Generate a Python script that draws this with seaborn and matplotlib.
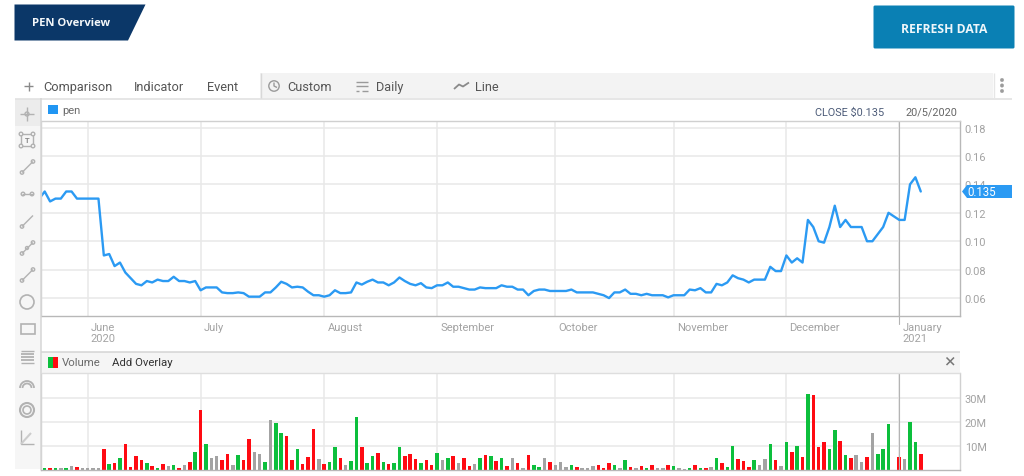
import numpy as np
import pandas as pd
import seaborn as sns
import matplotlib.pyplot as plt
from matplotlib.patches import Rectangle, Polygon, Circle, Arc, FancyBboxPatch
from matplotlib.transforms import ScaledTranslation

sns.set_theme(style='white')
plt.rcParams['font.family'] = ['Roboto', 'DejaVu Sans']

# closing price, first value is the day cut off by the left edge
price = [0.130, 0.135, 0.128, 0.130, 0.130, 0.135, 0.135, 0.130, 0.130, 0.130, 0.130, 0.130,
         0.090, 0.091, 0.0825, 0.085, 0.078, 0.074, 0.070, 0.069, 0.072, 0.071, 0.073, 0.072,
         0.072, 0.075, 0.072, 0.072, 0.071, 0.072, 0.0655, 0.0675, 0.0675, 0.0675, 0.064, 0.0635,
         0.0635, 0.064, 0.0635, 0.061, 0.061, 0.061, 0.064, 0.064, 0.0675, 0.0715, 0.070, 0.0675,
         0.068, 0.0675, 0.0645, 0.062, 0.062, 0.061, 0.062, 0.0655, 0.0635, 0.0635, 0.064, 0.071,
         0.0695, 0.0715, 0.073, 0.071, 0.071, 0.069, 0.071, 0.0745, 0.072, 0.070, 0.069, 0.0705,
         0.0675, 0.067, 0.069, 0.069, 0.071, 0.068, 0.068, 0.067, 0.066, 0.066, 0.0675, 0.067,
         0.067, 0.067, 0.069, 0.068, 0.068, 0.066, 0.066, 0.062, 0.065, 0.066, 0.066, 0.065,
         0.065, 0.065, 0.065, 0.066, 0.064, 0.064, 0.064, 0.064, 0.063, 0.062, 0.060, 0.064,
         0.064, 0.066, 0.063, 0.063, 0.062, 0.063, 0.062, 0.062, 0.062, 0.0605, 0.062, 0.062,
         0.062, 0.066, 0.0655, 0.067, 0.064, 0.064, 0.070, 0.069, 0.071, 0.076, 0.074, 0.073,
         0.071, 0.073, 0.073, 0.073, 0.082, 0.079, 0.079, 0.090, 0.085, 0.088, 0.085, 0.115,
         0.110, 0.100, 0.099, 0.110, 0.125, 0.110, 0.115, 0.110, 0.110, 0.110, 0.100, 0.100,
         0.105, 0.110, 0.120, 0.1175, 0.115, 0.115, 0.140, 0.145, 0.135]
# volume in millions
volume = [0.5, 0.5, 0.5, 0.8, 0.5, 1.5, 1.0, 0.8, 0.8, 0.8, 0.8, 8.5, 2.4, 2.8, 5.0, 10.8, 1.0, 5.5,
          4.0, 2.8, 1.3, 0.8, 2.1, 1.3, 1.7, 0.7, 1.7, 3.2, 7.3, 25.0, 10.8, 5.0, 5.8, 4.0, 6.3, 1.7,
          5.9, 4.0, 12.8, 7.4, 6.3, 3.2, 20.8, 19.6, 15.3, 13.9, 4.0, 8.5, 2.5, 5.2, 16.8, 4.3, 2.1, 3.2,
          9.3, 4.8, 1.7, 3.6, 21.9, 9.4, 2.8, 5.5, 7.0, 3.2, 2.5, 2.8, 9.3, 5.5, 6.6, 4.3, 2.8, 3.9,
          1.7, 7.0, 3.9, 4.8, 5.5, 2.8, 4.8, 1.3, 2.5, 5.0, 5.9, 5.5, 3.6, 5.0, 1.3, 5.0, 2.8, 0.8,
          6.2, 1.7, 1.0, 4.6, 3.2, 1.7, 3.2, 1.0, 1.7, 1.0, 0.8, 0.5, 1.3, 1.7, 0.7, 2.8, 2.0, 0.8,
          3.9, 1.0, 0.7, 1.3, 0.5, 1.7, 0.8, 0.8, 1.7, 1.3, 0.5, 0.3, 0.8, 1.7, 0.6, 0.6, 1.0, 4.7,
          2.8, 1.2, 9.7, 4.3, 3.6, 1.0, 3.9, 2.0, 4.3, 10.8, 3.9, 1.6, 11.5, 7.4, 10.0, 5.2, 31.7, 31.0,
          9.3, 11.5, 8.6, 16.5, 12.0, 5.9, 4.7, 6.2, 3.2, 5.2, 15.3, 6.6, 8.6, 19.2, 0.0, 5.2, 4.3, 20.0,
          11.5, 6.6]
# g up, r down, n unchanged
vol_dir = ['g', 'r', 'g', 'n', 'g', 'n', 'r', 'n', 'n', 'n', 'n', 'r', 'g', 'r', 'g', 'r', 'r', 'r',
           'r', 'g', 'r', 'g', 'r', 'n', 'g', 'r', 'n', 'r', 'g', 'r', 'g', 'n', 'n', 'r', 'r', 'n',
           'g', 'r', 'r', 'n', 'n', 'g', 'n', 'g', 'g', 'r', 'r', 'g', 'r', 'r', 'r', 'n', 'r', 'g',
           'g', 'r', 'n', 'g', 'g', 'r', 'g', 'g', 'r', 'g', 'r', 'g', 'g', 'r', 'r', 'r', 'g', 'r',
           'r', 'g', 'n', 'g', 'r', 'n', 'r', 'r', 'n', 'g', 'r', 'g', 'r', 'g', 'r', 'n', 'r', 'n',
           'r', 'g', 'g', 'n', 'r', 'n', 'n', 'n', 'g', 'r', 'n', 'n', 'n', 'r', 'r', 'r', 'g', 'n',
           'g', 'r', 'n', 'r', 'g', 'r', 'n', 'n', 'r', 'g', 'n', 'n', 'g', 'r', 'g', 'r', 'n', 'g',
           'r', 'g', 'g', 'r', 'r', 'r', 'g', 'n', 'n', 'g', 'r', 'n', 'g', 'r', 'g', 'r', 'g', 'r',
           'r', 'r', 'g', 'g', 'r', 'g', 'r', 'n', 'n', 'r', 'n', 'g', 'g', 'g', 'n', 'r', 'n', 'g',
           'g', 'r']
month_pos = [8, 29, 52, 73, 95, 117, 138, 159]
month_lab = ['June\n2020', 'July', 'August', 'September', 'October', 'November', 'December', 'January\n2021']
price_ticks = [0.06, 0.08, 0.10, 0.12, 0.14, 0.16, 0.18]
vol_ticks = [10, 20, 30]
vol_lab = ['10M', '20M', '30M']

W, H = 1024, 477
GRID = '#e8e8e8'
EDGE = '#d0d0d0'
TICK = '#a3a3a3'
BLUE = '#2b9af3'
ICON = '#b2b2b2'
X0, X1 = -0.69, 170.3


def px_axes(fig, left, top, right, bottom, **kw):
    return fig.add_axes([left / W, 1 - bottom / H, (right - left) / W, (bottom - top) / H], **kw)


def style_panel(ax):
    ax.set_xlim(X0, X1)
    ax.yaxis.tick_right()
    ax.set_xlabel('')
    ax.set_ylabel('')
    ax.grid(True, color=GRID, lw=1.1)
    ax.set_axisbelow(True)
    for s in ax.spines.values():
        s.set_color(EDGE)
        s.set_linewidth(1.0)
    ax.tick_params(axis='y', length=0, labelcolor=TICK, labelsize=7.9, pad=3.5)
    ax.plot([159, 159], [0, 1], color='#b4b4b4', lw=0.8, transform=ax.get_xaxis_transform(), zorder=1.5)


fig = plt.figure(figsize=(W / 100, H / 100), dpi=100, facecolor='white')

# price panel
ax = px_axes(fig, 41, 122, 960, 317)
days = np.arange(-1, len(price) - 1)
sns.lineplot(x=days, y=price, color=BLUE, lw=1.7, ax=ax, estimator=None, sort=False)
ax.set_ylim(0.0474, 0.1846)
ax.set_xticks(month_pos)
ax.set_xticklabels(month_lab, ha='left', linespacing=1.12)
ax.set_yticks(price_ticks)
ax.set_yticklabels(['%.2f' % t for t in price_ticks])
style_panel(ax)
ax.spines['bottom'].set_color('#b8b8b8')
ax.spines['right'].set_color('#b8b8b8')
ax.tick_params(axis='x', length=6, width=1, color=GRID, labelcolor=TICK, labelsize=8, pad=-1.5)
off = ScaledTranslation(2.3 / 72, 0, fig.dpi_scale_trans)
for lab in ax.get_xticklabels():
    lab.set_transform(lab.get_transform() + off)
ax.plot([159, 159], [0, -0.04], color='#b4b4b4', lw=0.8, clip_on=False, transform=ax.get_xaxis_transform())

# volume panel
vol_ax = px_axes(fig, 41, 374, 960, 470.5)
vol_df = pd.DataFrame({'day': np.arange(len(volume)), 'volume': volume, 'dir': vol_dir})
sns.barplot(data=vol_df, x='day', y='volume', hue='dir', native_scale=True, dodge=False, width=0.66,
            palette={'g': '#0cbf3c', 'r': '#ff0a12', 'n': '#a3a3a3'}, saturation=1, linewidth=0,
            legend=False, ax=vol_ax)
vol_ax.set_ylim(0, 40.3)
vol_ax.set_xticks(month_pos)
vol_ax.set_xticklabels([])
vol_ax.set_yticks(vol_ticks)
vol_ax.set_yticklabels(vol_lab)
style_panel(vol_ax)
vol_ax.spines['top'].set_visible(False)
vol_ax.spines['bottom'].set_color('#b8b8b8')
vol_ax.tick_params(axis='x', length=0)

# page furniture drawn in pixel coordinates
ui = fig.add_axes([0, 0, 1, 1], zorder=5)
ui.set_xlim(0, W)
ui.set_ylim(H, 0)
ui.axis('off')
ui.patch.set_alpha(0)


def box(x0, y0, x1, y1, color, **kw):
    ui.add_patch(Rectangle((x0, y0), x1 - x0, y1 - y0, fc=color, ec='none', **kw))


def seg(xs, ys, color=ICON, lw=1.0):
    ui.plot(xs, ys, color=color, lw=lw, solid_capstyle='butt')


def ring(x, y, r, color=ICON, lw=1.0, fc='none'):
    ui.add_patch(Circle((x, y), r, fc=fc, ec=color, lw=lw))


def txt(x, y, s, color='#555555', size=9.2, ha='left', **kw):
    ui.text(x, y, s, color=color, fontsize=size, ha=ha, va='center', **kw)


# banner and button
ui.add_patch(Polygon([(14.5, 5.5), (145.5, 5.5), (128, 41.5), (14.5, 41.5)], fc='#0b3768', ec='none'))
txt(32, 23.5, 'PEN Overview', color='#f4f7fa', size=8.1, weight='bold', family=['Open Sans', 'DejaVu Sans'])
ui.add_patch(FancyBboxPatch((873.5, 6.5), 141, 43, boxstyle='round,pad=0,rounding_size=1.5', fc='#0a80b4', ec='none'))
txt(944.5, 29.5, 'REFRESH DATA', color='#eef6fa', size=8.7, ha='center', weight='bold', family=['Open Sans', 'DejaVu Sans'])

# top toolbar
box(260, 74, 993, 99, '#f3f3f3')
seg([15, 1012], [99.5, 99.5], color='#e2e2e2', lw=1.2)
seg([260.5, 260.5], [74, 99], color='#d8d8d8')
seg([993.5, 993.5], [74, 99], color='#e6e6e6')
txt(43, 87.5, 'Comparison')
txt(133.5, 87.5, 'Indicator')
txt(207.5, 87.5, 'Event')
txt(287.5, 87.5, 'Custom')
txt(376, 87.5, 'Daily')
txt(475, 87.5, 'Line')
seg([24, 33], [87, 87], color='#8a8a8a')
seg([28.5, 28.5], [82.5, 91.5], color='#8a8a8a')
ring(274, 87, 5.2, color='#9a9a9a')
seg([274, 274, 277], [83.5, 87, 88.5], color='#9a9a9a')
seg([356, 368], [82.5, 82.5], color='#9a9a9a')
seg([356, 368], [87, 87], color='#9a9a9a')
seg([356, 359], [91.5, 91.5], color='#9a9a9a')
seg([362, 368], [91.5, 91.5], color='#9a9a9a')
seg([454, 459, 463, 469], [90, 85.5, 87.5, 83.5], color='#8a8a8a', lw=1.3)
for y in (81, 86.5, 92):
    ring(1002, y, 1.7, color='#9c9c9c', fc='#9c9c9c', lw=0.3)

# left tool column
box(15, 100, 41, 470, '#f6f6f6')
box(15, 100, 41, 127, '#ececec')
seg([41, 41], [99, 471], color='#d6d6d6', lw=1.1)
seg([27, 27], [108, 122], color=ICON)
seg([20, 34], [115, 115], color=ICON)
ring(27, 115, 2, fc='#ececec')
ui.add_patch(Rectangle((21, 135), 12, 12, fc='none', ec=ICON, lw=1))
for a, b in [(21, 135), (33, 135), (21, 147), (33, 147)]:
    ring(a, b, 1.8, fc='#f6f6f6')
txt(27, 141, 'T', color='#8a8a8a', size=5.5, ha='center', weight='bold')
for y in (168, 222, 249, 276):
    seg([22, 33], [y + 5.5, y - 5.5])
    ring(22, y + 5.5, 1.7, fc='#f6f6f6')
    if y != 222:
        ring(33, y - 5.5, 1.7, fc='#f6f6f6')
ring(27, 249, 1.5, fc='#f6f6f6')
seg([21.5, 33], [195, 195])
ring(23, 195, 1.8, fc='#f6f6f6')
ring(32, 195, 1.8, fc='#f6f6f6')
ring(27, 303, 7, lw=1.2)
ui.add_patch(Rectangle((20.5, 325), 14, 10, fc='none', ec=ICON, lw=1.2))
for y in (352, 355, 358, 361, 364):
    seg([20.5, 34], [y, y], lw=1.0 if y in (352, 364) else 1.3)
for r in (7, 4.5):
    ui.add_patch(Arc((27, 389), 2 * r, 2 * r, theta1=180, theta2=360, ec=ICON, lw=1.3))
ring(27, 411, 7, lw=1.5)
ring(27, 411, 4, lw=1.2)
seg([20.5, 20.5, 34], [431, 445, 445], lw=1)
seg([21, 31], [445, 434], color='#cccccc', lw=1.5)

# legend rows
box(48, 106, 57.5, 115, '#2196f3')
txt(62, 111, 'pen', color='#6a6a6a', size=8)
txt(815, 112.5, 'CLOSE $0.135', color='#4c5b78', size=7.8)
txt(905, 112.5, '20/5/2020', color='#666666', size=7.8)

# volume header
box(41, 353, 960, 373.5, '#f5f5f5')
seg([41, 960], [352.5, 352.5], color='#d4d4d4', lw=1.1)
seg([41, 960], [373.5, 373.5], color='#dedede', lw=1)
box(47.5, 358, 53, 369, '#0cbf3c')
box(53, 358, 58, 369, '#ff0a12')
txt(62, 363.5, 'Volume', color='#6a6a6a', size=8.2)
txt(112.5, 363.5, 'Add Overlay', color='#333333', size=8.2)
seg([946.5, 954], [358.5, 366], color='#777777', lw=1.1)
seg([946.5, 954], [366, 358.5], color='#777777', lw=1.1)

# last price tag, placed from the last close
fig.canvas.draw()
tag_y = H - ax.transData.transform((0, price[-1]))[1]
ui.add_patch(Polygon([(962, tag_y), (967, tag_y - 6.5), (1012, tag_y - 6.5), (1012, tag_y + 6.5), (967, tag_y + 6.5)],
                     fc=BLUE, ec='none'))
txt(967.5, tag_y + 0.5, '%.3f' % price[-1], color='white', size=8.3)

fig.savefig('out.png', dpi=100)
